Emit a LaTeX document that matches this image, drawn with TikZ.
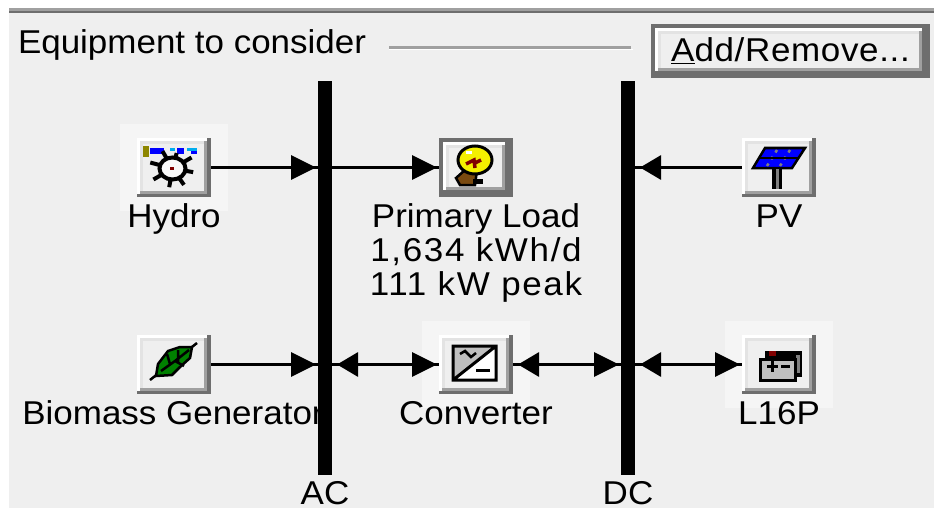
\documentclass[tikz,border=0pt]{standalone}
\usepackage{fontspec}
\setmainfont[FakeStretch=1.06]{Liberation Sans}
\usetikzlibrary{positioning, backgrounds, arrows.meta, calc}
\definecolor{panelgray}{HTML}{EFEFEF}
\definecolor{glowgray}{HTML}{F5F5F5}
\definecolor{btndark}{HTML}{6E6E6E}
\definecolor{btnmid}{HTML}{A0A0A0}
\definecolor{btnlight}{HTML}{E3E3E3}
\definecolor{leafgreen}{HTML}{008000}
\definecolor{bulbyellow}{HTML}{F4F000}
\definecolor{basebrown}{HTML}{7A4A10}
\definecolor{darkred}{HTML}{800000}

\begin{document}
\begin{tikzpicture}[
  x=1pt, y=-1pt,
  tipr/.tip={Triangle[length=25pt, width=24pt, sep=0pt] Rectangle[length=2pt, width=3pt]},
  tipl/.tip={Triangle[length=21pt, width=24pt, sep=0pt] Rectangle[length=5pt, width=3pt]},
  btnbox/.style={draw=none, fill=btndark, inner sep=0pt, outer sep=0pt, path picture={
    \fill[white] ([xshift=#1, yshift=-#1]path picture bounding box.north west) rectangle ([xshift=-#1-4pt, yshift=#1+3pt]path picture bounding box.south east);
    \fill[btnmid] ([xshift=#1+3pt, yshift=-#1-3pt]path picture bounding box.north west) rectangle ([xshift=-#1-4pt, yshift=#1+3pt]path picture bounding box.south east);
    \fill[btnlight] ([xshift=#1+3pt, yshift=-#1-3pt]path picture bounding box.north west) rectangle ([xshift=-#1-7pt, yshift=#1+6pt]path picture bounding box.south east);
    \fill[panelgray] ([xshift=#1+6pt, yshift=-#1-6pt]path picture bounding box.north west) rectangle ([xshift=-#1-7pt, yshift=#1+6pt]path picture bounding box.south east);
  }},
  iconbtn/.style={btnbox=0pt, minimum width=74pt, minimum height=59pt},
  focusbtn/.style={btnbox=4pt, minimum width=74pt, minimum height=59pt},
  labeltxt/.style={inner sep=0pt, outer sep=0pt, font=\fontsize{33}{34}\selectfont, text height=25pt, text depth=8pt},
  bustxt/.style={labeltxt, text depth=0pt},
  busbar/.style={fill=black, inner sep=0pt, outer sep=0pt, minimum width=14pt, minimum height=394pt},
  glowbox/.style={fill=glowgray, inner sep=0pt, minimum width=108pt, minimum height=87pt},
  wire/.style={line width=3pt, black}
]
\useasboundingbox (0,0) rectangle (934,508);

\node[iconbtn] (hydro) at (174,167.5) {};
\node[focusbtn, right=228pt of hydro] (load) {};
\node[iconbtn, right=229pt of load] (pv) {};
\node[iconbtn, below=138pt of hydro] (biomass) {};
\node[iconbtn, below=138pt of load] (converter) {};
\node[iconbtn, below=138pt of pv] (battery) {};
\node[btnbox=4pt, minimum width=279pt, minimum height=54pt, anchor=north west] (addbtn) at (651,24) {};

\begin{scope}[on background layer]
  \fill[panelgray] (9,13) rectangle (934,508);
  \fill[btnmid] (9,8) rectangle (934,11);
  \fill[btndark] (9,11) rectangle (934,13);
  \node[glowbox] (hydroglow) at (hydro) {};
  \node[glowbox] (converterglow) at (converter) {};
  \node[glowbox] (batteryglow) at (battery) {};
\end{scope}

\node[labeltxt, anchor=base west] (title) at (18,54) {Equipment to consider};
\coordinate (ruleleft) at (389,47.5);
\coordinate (ruleright) at (631,47.5);
\draw[btnmid, line width=3pt] (ruleleft) -- (ruleright);
\draw[white, line width=1pt] ($(ruleleft)+(0,2)$) -- ($(ruleright)+(2,2)$);
\node[labeltxt, anchor=base] (addtxt) at (addbtn.center |- 0,62) {\addfontfeature{LetterSpace=2}\underline{A}dd/Remove...};

\node[labeltxt, below=5pt of hydro] (hydrotxt) {Hydro};
\node[labeltxt, below=5pt of pv] (pvtxt) {PV};
\node[labeltxt, below=5pt of biomass, xshift=-1pt] (biomasstxt) {Biomass Generator};
\node[labeltxt, below=5pt of converter] (convertertxt) {Converter};
\node[labeltxt, below=5pt of battery] (batterytxt) {L16P};
\node[labeltxt, below=7pt of load, align=center, text height=, text depth=] (loadtxt) {Primary Load\\{\addfontfeature{LetterSpace=5}1,634 kWh/d}\\{\addfontfeature{LetterSpace=5}111 kW peak}};

\node[busbar] (acbar) at (325,278) {};
\node[busbar] (dcbar) at (628,278) {};
\node[bustxt, below=4pt of acbar] (actxt) {AC};
\node[bustxt, below=4pt of dcbar] (dctxt) {DC};

\draw[wire, -{tipr}] (hydro.east) -- (hydro.east -| acbar.west);
\draw[wire, -{tipr}] (hydro.east -| acbar.east) -- (load.west);
\draw[wire, -{tipl}] (pv.west) -- (pv.west -| dcbar.east);
\draw[wire, -{tipr}] (biomass.east) -- (biomass.east -| acbar.west);
\draw[wire, {tipl}-{tipr}] (converter.west -| acbar.east) -- (converter.west);
\draw[wire, {tipl}-{tipr}] (converter.east) -- (converter.east -| dcbar.west);
\draw[wire, {tipl}-{tipr}] (battery.west -| dcbar.east) -- (battery.west);

% hydro
\fill[olive] (143,146) rectangle (149,157);
\fill[blue] (150,148) rectangle (164,154);
\fill[cyan] (170,148) rectangle (175,151);
\fill[blue] (177,148) rectangle (184,154);
\fill[cyan] (187,148) rectangle (197,151);
\fill[blue] (191,151) rectangle (197,154);
\draw[black, line width=4pt, fill=white!60!panelgray] (172.5,168.5) ellipse (13 and 11);
\foreach \ang/\len in {10/21,55/20,100/19,150/22,195/23,240/20,285/16,330/22}
  \draw[black, line width=4pt] ($(172.5,168.5)+(\ang:12)$) -- ($(172.5,168.5)+(\ang:\len)$);
\fill[darkred] (170,167) rectangle (174,170);

% bulb
\fill[basebrown, draw=black, line width=2.5pt] (456,178) -- (465,170) -- (477,170) -- (475,185) -- (460,185) -- cycle;
\fill[black] (473,179) rectangle (483,184);
\fill[bulbyellow, draw=black, line width=3pt] (475,160) ellipse (17 and 14);
\fill[white] (466,151) rectangle (472,154);
\draw[darkred, line width=3.5pt] (466,164) -- (474,160) -- (475,168) (475,163) -- (481,160);

% solar panel
\fill[blue, draw=black, line width=2.5pt] (765,148) -- (805,148) -- (792,168) -- (753,168) -- cycle;
\foreach \px in {777,790}
  \draw[gray, line width=2.5pt, dash pattern=on 3pt off 5pt] (\px,150) -- (\px-10,166);
\draw[black, line width=2pt] (759,158) -- (799,158);
\fill[black] (772,169) rectangle (782,189);
\fill[gray] (775.5,169) rectangle (778.5,189);

% leaf
\draw[black, line width=2.5pt] (150,380) -- (197,343);
\fill[leafgreen, draw=black, line width=2.5pt] (156,376) -- (158,364) -- (168,351) -- (180,347) -- (192,347) -- (190,358) -- (180,367) -- (172,375) -- cycle;
\draw[black, line width=2.5pt] (161,371) -- (175,361) -- (189,350) (167,354) -- (170,364) (178,350) -- (178,362) (175,361) -- (184,366);

% converter
\fill[white] (453,346) rectangle (496,380);
\fill[gray!50] (453,346) -- (496,346) -- (453,380) -- cycle;
\draw[black, line width=3pt] (453,346) -- (496,346) -- (496,380) -- (453,380) -- cycle (453,380) -- (496,346);
\draw[black, line width=2.5pt] (460,354) -- (465,351) -- (471,357) -- (476,353);
\fill[black] (476,369) rectangle (490,372);

% battery
\fill[black] (765,351) rectangle (802,377);
\fill[gray] (796,355) rectangle (800,373);
\fill[gray!50, draw=black, line width=3pt] (760.5,359) rectangle (795,380);
\fill[darkred] (769,351) rectangle (776,356);
\fill[black] (767,364.5) rectangle (778,367.5);
\fill[black] (771,360.5) rectangle (774,371.5);
\fill[black] (781,364.5) rectangle (790,367.5);
\end{tikzpicture}
\end{document}
